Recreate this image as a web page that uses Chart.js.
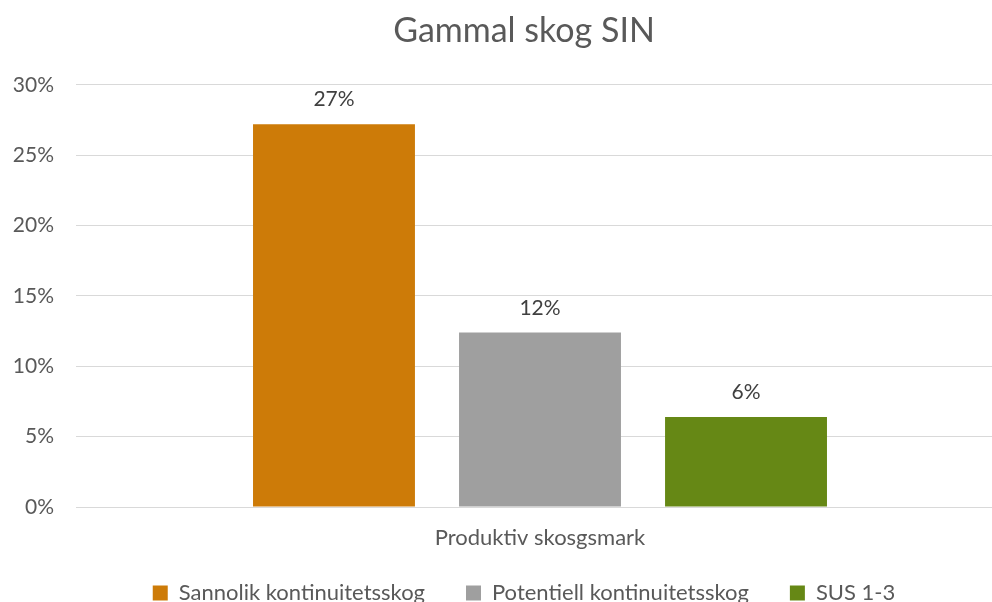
<!DOCTYPE html>
<html>
<head>
<meta charset="utf-8">
<title>Gammal skog SIN</title>
<script src="https://cdn.jsdelivr.net/npm/chart.js@4/dist/chart.umd.min.js"></script>
<style>
    html, body { margin: 0; padding: 0; background: #fff; overflow: hidden; }
    #wrap { width: 992px; height: 602px; overflow: hidden; position: relative; }
    #box { width: 1030px; height: 614px; position: absolute; left: 0; top: 0; }
</style>
</head>
<body>
<div id="wrap">
    <div id="box"><canvas id="chart"></canvas></div>
</div>
<script>
    // Chart data
    const categories = ['Produktiv skosgsmark'];
    const seriesNames = ['Sannolik kontinuitetsskog', 'Potentiell kontinuitetsskog', 'SUS 1-3'];
    const seriesValues = [0.272, 0.124, 0.064];
    const seriesColors = ['#cd7b08', '#9f9f9f', '#668815'];
    const yTicks = [0, 0.05, 0.10, 0.15, 0.20, 0.25, 0.30];

    const FONT = 'Lato, "Open Sans", sans-serif';

    function pct(v) {
        return Math.round(v * 100) + '%';
    }

    // Value labels, category label and y tick labels (scale boxes clip their own text)
    const textLayer = {
        id: 'textLayer',
        afterDatasetsDraw: function(chart) {
            const ctx = chart.ctx;
            ctx.save();
            ctx.fillStyle = '#404040';
            ctx.font = '21px ' + FONT;
            ctx.textAlign = 'center';
            ctx.textBaseline = 'bottom';
            chart.data.datasets.forEach(function(ds, i) {
                chart.getDatasetMeta(i).data.forEach(function(bar, j) {
                    ctx.fillText(pct(ds.data[j]), bar.x, bar.y - 14);
                });
            });

            const xScale = chart.scales.x;
            ctx.fillStyle = '#595959';
            ctx.font = '22px ' + FONT;
            ctx.textBaseline = 'middle';
            chart.data.labels.forEach(function(label, j) {
                ctx.fillText(label, xScale.getPixelForValue(j), xScale.top + 31);
            });

            const yScale = chart.scales.y;
            ctx.font = '21px ' + FONT;
            ctx.textAlign = 'right';
            yTicks.forEach(function(v) {
                ctx.fillText(pct(v), chart.chartArea.left - 22, yScale.getPixelForValue(v));
            });
            ctx.restore();
        }
    };

    const datasets = seriesNames.map(function(name, i) {
        return {
            label: name,
            data: [seriesValues[i]],
            backgroundColor: seriesColors[i],
            borderWidth: 0,
            categoryPercentage: 0.666,
            barPercentage: 0.786
        };
    });

    new Chart(document.getElementById('chart'), {
        type: 'bar',
        data: { labels: categories, datasets: datasets },
        plugins: [textLayer],
        options: {
            responsive: true,
            maintainAspectRatio: false,
            animation: false,
            layout: { padding: { top: 0, right: 26, bottom: 0, left: 44 } },
            plugins: {
                title: {
                    display: true,
                    text: 'Gammal skog SIN',
                    color: '#595959',
                    font: { family: FONT, size: 34, weight: 'normal' },
                    padding: { top: 11, bottom: 33 }
                },
                legend: {
                    position: 'bottom',
                    labels: {
                        color: '#595959',
                        font: { family: FONT, size: 22 },
                        boxWidth: 15,
                        boxHeight: 15,
                        padding: 41
                    }
                },
                tooltip: { enabled: false }
            },
            scales: {
                x: {
                    grid: { display: false },
                    border: { color: '#d9d9d9', width: 1 },
                    ticks: { display: false },
                    afterFit: function(scale) { scale.height = 34; }
                },
                y: {
                    min: 0,
                    max: 0.30,
                    afterBuildTicks: function(scale) {
                        scale.ticks = yTicks.map(function(v) { return { value: v }; });
                    },
                    grid: { color: '#d9d9d9', lineWidth: 1, drawTicks: false },
                    border: { display: false },
                    ticks: { display: false },
                    afterFit: function(scale) { scale.width = 32; }
                }
            }
        }
    });
</script>
</body>
</html>
